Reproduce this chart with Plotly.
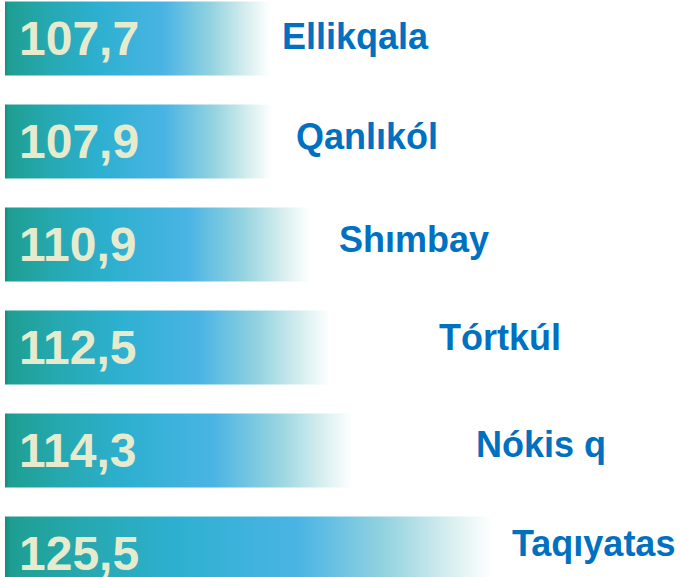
import plotly.graph_objects as go

# ---- data ----
categories = ["Ellikqala", "Qanlıkól", "Shımbay", "Tórtkúl", "Nókis q", "Taqıyatas"]
values = [107.7, 107.9, 110.9, 112.5, 114.3, 125.5]
value_labels = [f"{v:.1f}".replace(".", ",") for v in values]

# ---- styling / layout ----
AXIS_MIN, AXIS_MAX = 86.1, 140.5
BASE = 86.5            # bar baseline on the value axis
HALF = 0.36            # half bar thickness (category units)
LABEL_BLUE = "#0070C0"
VALUE_CREAM = "#e7ebcd"
GRADIENT = [
    [0.0, "#148a7c"], [0.012, "#1e9e92"], [0.15, "#25a8ae"], [0.35, "#2db0d0"],
    [0.6, "#4ab4e4"], [0.78, "#94d3e0"], [0.92, "#dbf0f0"], [1.0, "#ffffff"],
]
# per-label pixel nudges (x gap after bar end, y lift) to mimic the infographic layout
LABEL_XSHIFT = [10, 21, 27, 107, 121, 17]
LABEL_YSHIFT = [2, 5, 5, 10, 6, 10]

fig = go.Figure()
annotations = []
for i, (cat, v, lab) in enumerate(zip(categories, values, value_labels)):
    fig.add_trace(go.Scatter(
        x=[BASE, v, v, BASE, BASE],
        y=[i - HALF, i - HALF, i + HALF, i + HALF, i - HALF],
        mode="lines", line=dict(width=0), fill="toself",
        fillgradient=dict(type="horizontal", colorscale=GRADIENT, start=BASE, stop=v),
        hoverinfo="skip", showlegend=False,
    ))
    annotations.append(dict(
        x=BASE, y=i, xref="x", yref="y", text=f"<b>{lab}</b>", showarrow=False,
        xanchor="left", yanchor="middle", xshift=12,
        font=dict(family="Liberation Sans, Arial, sans-serif", size=48, color=VALUE_CREAM),
    ))
    annotations.append(dict(
        x=v, y=i, xref="x", yref="y", text=f"<b>{cat}</b>", showarrow=False,
        xanchor="left", yanchor="middle",
        xshift=LABEL_XSHIFT[i], yshift=LABEL_YSHIFT[i],
        font=dict(family="Liberation Sans, Arial, sans-serif", size=36, color=LABEL_BLUE),
    ))

fig.update_layout(
    width=680, height=577,
    margin=dict(l=0, r=0, t=0, b=0),
    paper_bgcolor="white", plot_bgcolor="white",
    xaxis=dict(range=[AXIS_MIN, AXIS_MAX], visible=False, fixedrange=True),
    yaxis=dict(range=[5.228, -0.374], visible=False, fixedrange=True),
    annotations=annotations,
    showlegend=False,
)

fig.write_html("out.html", config={"displayModeBar": False},
               post_script="document.body.style.margin='0';document.body.style.overflow='hidden';")
